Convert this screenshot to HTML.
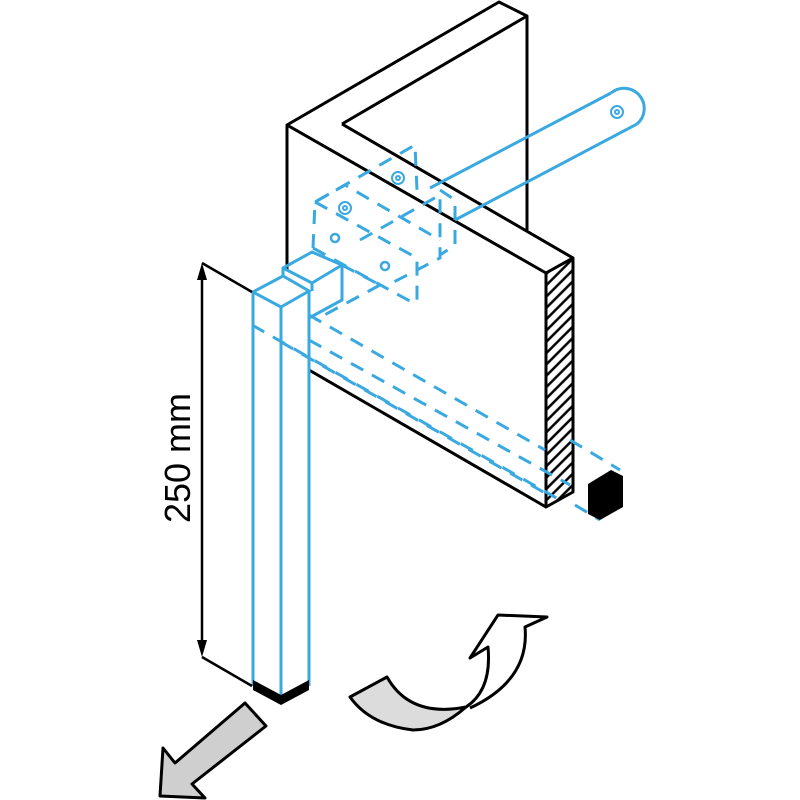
<!DOCTYPE html>
<html><head><meta charset="utf-8"><style>html,body{margin:0;padding:0;background:#fff}svg{display:block}</style></head>
<body>
<svg width="800" height="800" viewBox="0 0 800 800" xmlns="http://www.w3.org/2000/svg">
<defs>
<pattern id="h" width="8" height="8" patternUnits="userSpaceOnUse" patternTransform="rotate(-45)">
<rect width="8" height="8" fill="#fff"/><line x1="0" y1="4" x2="8" y2="4" stroke="#000" stroke-width="2.5"/></pattern>
</defs>
<g fill="none" stroke="#000" stroke-width="3" stroke-linejoin="round">
<polyline points="287,270 287,125 499,2 527,16 527,230"/>
<polyline points="287,125 546,273 573,258"/>
<polyline points="342,124 527,16"/>
<line x1="342" y1="124" x2="573" y2="258"/>
<polygon points="546,273 573,258 573,492 546,507" fill="url(#h)"/>
<polyline points="309,370 546,507"/>
</g>
<g fill="none" stroke="#3aa9e0" stroke-width="3" stroke-dasharray="14,10">
<line x1="252" y1="325" x2="560" y2="500"/>
<line x1="281" y1="342" x2="545" y2="493"/>
<line x1="309" y1="315" x2="545" y2="450"/>
<line x1="309" y1="340" x2="570" y2="485"/>
<line x1="570" y1="440" x2="620" y2="470"/>
<line x1="575" y1="505" x2="600" y2="520"/>
<polyline points="315,202 417,258 417,305"/>
<polyline points="313,248 315,202 415,145 417,190"/>
<line x1="313" y1="248" x2="417" y2="305"/>
<polyline points="360,240 440,195 440,258 388,285"/>
<polyline points="315,202 345,185 440,240"/>
<polyline points="440,190 455,200 455,245 440,255"/>
<line x1="342" y1="265" x2="380" y2="285"/>
<line x1="380" y1="285" x2="315" y2="320"/>
</g>
<g fill="none" stroke="#3aa9e0" stroke-width="3">
<circle cx="345" cy="208" r="6" stroke-width="2"/><circle cx="345" cy="208" r="2" stroke-width="2"/>
<circle cx="398" cy="178" r="6" stroke-width="2"/><circle cx="398" cy="178" r="2" stroke-width="2"/>
<circle cx="335" cy="238" r="4" stroke-width="2.5"/>
<circle cx="385" cy="266" r="4" stroke-width="2.5"/>
<line x1="430" y1="188" x2="611" y2="93"/>
<line x1="455" y1="220" x2="637" y2="124"/>
<path d="M611,93 A18,18 0 0 1 637,124"/>
<circle cx="617" cy="112" r="6" stroke-width="2"/><circle cx="617" cy="112" r="2" stroke-width="2"/>
<line x1="253" y1="292" x2="253" y2="686"/>
<line x1="281" y1="307" x2="281" y2="700"/>
<line x1="309" y1="292" x2="309" y2="686"/>
<polygon points="253,292 283,276 309,291 281,307"/>
<polyline points="283,276 283,268 312,252 342,265 342,300 309,318"/>
<line x1="283" y1="268" x2="312" y2="283"/><line x1="312" y1="283" x2="342" y2="265"/>
<line x1="312" y1="283" x2="312" y2="291"/>
</g>
<polygon points="253,680 281,695 309,680 309,690 281,705 253,690" fill="#000"/>
<polygon points="588,484 611,470 623,476 623,507 600,520 588,514" fill="#000"/>
<g stroke="#000" stroke-width="2.5" fill="none">
<line x1="202" y1="270" x2="202" y2="650"/>
<line x1="202" y1="263" x2="252" y2="292"/>
<line x1="202" y1="657" x2="252" y2="686"/>
</g>
<polygon points="202,263 197,280 207,280" fill="#000"/>
<polygon points="202,657 197,640 207,640" fill="#000"/>
<text x="0" y="0" transform="translate(190,458) rotate(-90)" font-family="Liberation Sans, sans-serif" font-size="36" text-anchor="middle">250 mm</text>
<polygon points="245,703 266,726 192,784 205,798 160,796 163,748 175,763" fill="#cfcfcf" stroke="#000" stroke-width="3" stroke-linejoin="round"/>
<path d="M350,697 L387,677 Q410,718 466,707 Q440,730 413,730 Q370,725 350,697 Z" fill="#dcdcdc" stroke="#000" stroke-width="3" stroke-linejoin="round"/>
<path d="M466,707 Q492,690 488,647 L470,658 L498,615 L547,617 L525,627 Q530,680 470,708" fill="#fff" stroke="#000" stroke-width="3" stroke-linejoin="round"/>
</svg>
</body></html>
